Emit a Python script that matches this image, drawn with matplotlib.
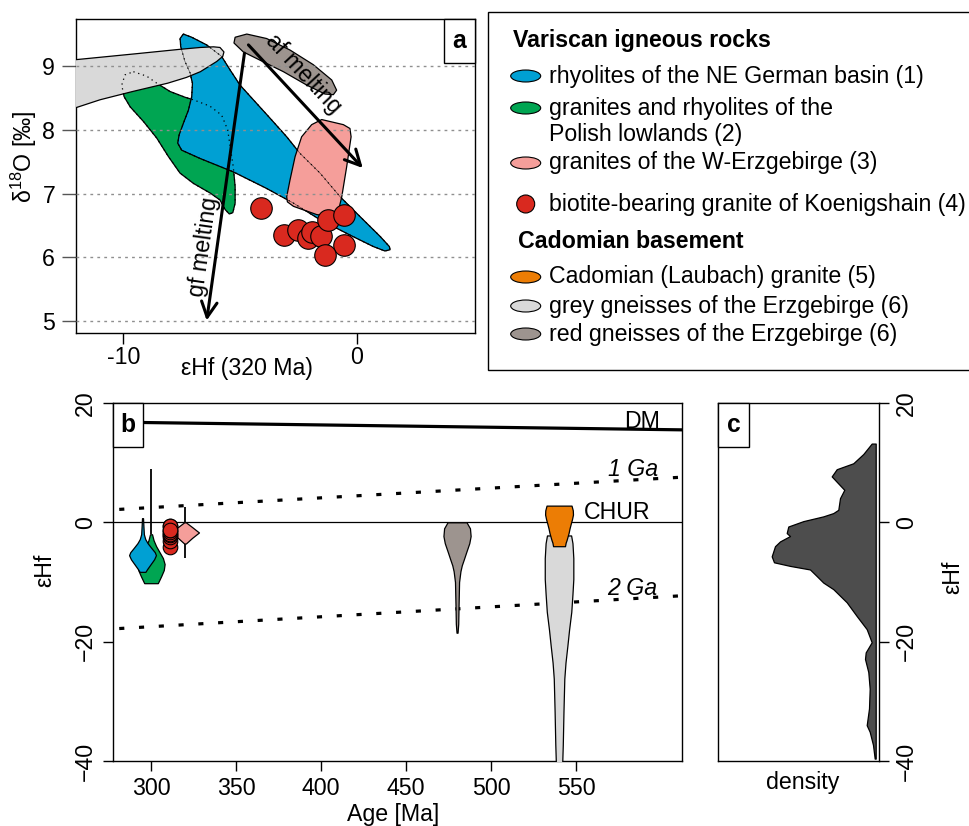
import matplotlib
matplotlib.use("Agg")
import matplotlib.pyplot as plt
from matplotlib.patches import Polygon, Rectangle, Ellipse, Circle
import numpy as np

plt.rcParams['font.family'] = ['Liberation Sans', 'DejaVu Sans']
plt.rcParams['mathtext.fontset'] = 'custom'
plt.rcParams['mathtext.rm'] = 'Liberation Sans'
FS = 16.7

# ---------------- colours ----------------
C_BLUE = '#00A0D3'
C_GREEN = '#00A552'
C_PINK = '#F59E9A'
C_RED = '#D9291F'
C_ORANGE = '#EC7D05'
C_LGREY = '#D9D9D9'
C_REDGN = '#9D948F'
C_DENS = '#4D4D4D'

# ---------------- panel a: epsilon Hf (320 Ma) vs d18O fields ----------------
grey_gneiss_ehf = [-14.0, -12.0, -9.5, -7.6, -6.7, -6.14, -5.86, -5.69, -5.74, -6.0, -6.7, -7.3, -8.1, -9.6, -11.0, -12.0, -14.0]
grey_gneiss_d18o = [9.03, 9.10, 9.19, 9.26, 9.29, 9.30, 9.29, 9.22, 9.15, 9.07, 8.91, 8.82, 8.73, 8.60, 8.47, 8.35, 8.25]

ne_german_ehf = [-7.43, -7.07, -6.43, -5.79, -5.43, -5.0, -4.43, -3.71, -3.0, -2.43, -1.57, -0.71, 0.14, 1.0, 1.40, 1.43, 1.21,
                 0.71, -0.29, -1.57, -2.71, -3.86, -5.29, -6.71, -7.5, -7.67, -7.61, -7.43, -7.21, -7.07, -7.04, -7.14, -7.36, -7.54, -7.57]
ne_german_d18o = [9.50, 9.45, 9.33, 9.15, 8.94, 8.70, 8.47, 8.18, 7.89, 7.63, 7.32, 6.95, 6.64, 6.33, 6.17, 6.12, 6.10,
                  6.17, 6.35, 6.59, 6.85, 7.08, 7.34, 7.55, 7.68, 7.79, 7.92, 8.10, 8.31, 8.52, 8.73, 8.89, 9.07, 9.30, 9.43]

polish_ehf = [-9.57, -9.0, -8.57, -8.0, -7.36, -7.0, -6.29, -5.79, -5.53, -5.4, -5.29, -5.21, -5.21, -5.31, -5.46, -5.64,
              -5.86, -6.29, -7.0, -7.57, -8.07, -8.57, -9.14, -9.71, -9.97, -10.07, -9.93]
polish_d18o = [8.91, 8.84, 8.73, 8.60, 8.51, 8.47, 8.37, 8.23, 8.0, 7.68, 7.42, 7.11, 6.85, 6.70, 6.68, 6.75,
               6.90, 7.01, 7.16, 7.32, 7.58, 7.87, 8.13, 8.36, 8.52, 8.70, 8.86]

red_gneiss_ehf = [-5.21, -4.71, -3.86, -2.86, -1.86, -1.07, -0.86, -1.0, -1.36, -2.14, -3.14, -4.14, -4.86, -5.26]
red_gneiss_d18o = [9.45, 9.50, 9.43, 9.25, 9.02, 8.78, 8.62, 8.55, 8.56, 8.70, 8.91, 9.09, 9.22, 9.36]

w_erz_ehf = [-1.93, -1.5, -0.57, -0.29, -0.24, -0.43, -0.64, -0.79, -1.0, -1.71, -2.71, -2.97, -3.0, -2.86, -2.64, -2.36]
w_erz_d18o = [8.08, 8.16, 8.08, 8.02, 7.89, 7.42, 6.95, 6.72, 6.64, 6.67, 6.80, 6.87, 6.95, 7.21, 7.58, 7.89]

# biotite-bearing granite of Koenigshain (individual samples)
koenigshain_ehf = [-4.10, -3.10, -2.50, -2.07, -1.90, -1.54, -1.24, -0.54, -0.54, -1.34]
koenigshain_d18o = [6.77, 6.35, 6.43, 6.30, 6.39, 6.34, 6.59, 6.66, 6.20, 6.03]

# melting trends (start, end)
gf_melting_ehf = [-4.81, -6.43]
gf_melting_d18o = [9.20, 5.01]
af_melting_ehf = [-4.64, 0.26]
af_melting_d18o = [9.33, 7.40]

# ---------------- panel b: epsilon Hf vs age ----------------
rhyolite_age = 295
rhyolite_ehf = [0.7, -0.5, -2.0, -2.8, -3.5, -4.3, -5.0, -5.5, -6.2, -7.0, -7.8, -8.3]
rhyolite_hw = [0.3, 0.5, 0.8, 1.6, 3.0, 5.2, 7.2, 7.9, 6.8, 4.8, 2.8, 1.7]

polish_age = 300
polish_range = [8.9, -2.0]
polish_v_ehf = [-2.0, -3.0, -4.0, -5.0, -6.0, -7.0, -8.0, -9.0, -10.2]
polish_v_hw = [0.6, 1.5, 3.0, 5.0, 7.0, 8.0, 7.5, 6.0, 4.0]

koenigshain_age = 311

w_erz_age = 320
w_erz_range = [2.5, -6.05]
w_erz_v_ehf = [0.0, -0.8, -1.7, -2.6, -3.55]
w_erz_v_hw = [0.5, 4.2, 8.2, 4.2, 0.5]

red_gneiss_age = 480
red_gneiss_v_ehf = [0.0, -1.0, -2.3, -3.5, -5.0, -6.2, -7.2, -8.2, -10.0, -14.0, -17.0, -18.5]
red_gneiss_v_hw = [5.6, 7.6, 8.0, 7.2, 5.4, 4.0, 2.8, 2.0, 1.2, 0.9, 0.7, 0.3]

grey_gneiss_age = 540
grey_gneiss_v_ehf = [-2.2, -3.5, -6.0, -9.5, -12.0, -15.0, -18.0, -20.7, -23.5, -26.2, -31.8, -37.3, -41.0]
grey_gneiss_v_hw = [7.1, 7.9, 8.4, 8.4, 7.9, 7.2, 5.9, 4.9, 3.8, 3.1, 2.6, 2.2, 1.8]

laubach_age = 540
laubach_v_ehf = [2.8, 2.0, 1.3, 0.5, 0.0, -1.0, -1.8, -3.0, -3.4, -4.0]
laubach_v_hw = [7.35, 8.1, 8.2, 7.6, 7.1, 6.2, 5.6, 4.4, 3.9, 3.5]

# reference evolution lines
dm_age = [277.4, 612.5]
dm_ehf = [16.8, 15.5]
ga1_age = [281.3, 612.5]
ga1_ehf = [2.17, 7.57]
ga2_age = [281.3, 612.5]
ga2_ehf = [-17.8, -12.3]

# ---------------- panel c: density of all epsilon Hf ----------------
dens_ehf = [13.2, 11.45, 9.9, 8.9, 7.7, 6.8, 5.45, 4.05, 2.1, 1.55, 1.0, 0.2, -0.7, -1.8, -2.3, -3.2, -4.0, -5.7, -6.7,
            -7.3, -7.9, -9.0, -10.1, -11.2, -13.4, -15.7, -17.9, -20.1, -21.8, -22.9, -25.1, -27.9, -31.2, -34.0, -35.1,
            -37.3, -39.6]
dens = [0.004, 0.0124, 0.0224, 0.039, 0.044, 0.039, 0.0314, 0.0357, 0.0374, 0.0424, 0.0524, 0.0724, 0.0874, 0.089,
        0.0857, 0.0957, 0.1007, 0.104, 0.1017, 0.0857, 0.0657, 0.059, 0.0524, 0.0424, 0.029, 0.019, 0.009, 0.004, 0.010,
        0.0107, 0.0074, 0.006, 0.0067, 0.009, 0.006, 0.0027, 0.001]

legend_headings = ["Variscan igneous rocks", "Cadomian basement"]
legend_labels = ["rhyolites of the NE German basin (1)", "granites and rhyolites of the\nPolish lowlands (2)",
                 "granites of the W-Erzgebirge (3)", "biotite-bearing granite of Koenigshain (4)",
                 "Cadomian (Laubach) granite (5)", "grey gneisses of the Erzgebirge (6)",
                 "red gneisses of the Erzgebirge (6)"]
legend_colors = [C_BLUE, C_GREEN, C_PINK, C_RED, C_ORANGE, C_LGREY, C_REDGN]
legend_marker = ['ellipse', 'ellipse', 'ellipse', 'circle', 'ellipse', 'ellipse', 'ellipse']

# ---------------- figure layout (pixel based) ----------------
W, H = 969, 826
fig = plt.figure(figsize=(W / 100, H / 100), dpi=100)


def px_axes(x0, y0, x1, y1):
    return fig.add_axes([x0 / W, 1 - y1 / H, (x1 - x0) / W, (y1 - y0) / H])


def px_to_axfrac(ax, px, py):
    bb = ax.get_position()
    return (px / W - bb.x0) / bb.width, ((1 - py / H) - bb.y0) / bb.height


def panel_tag(ax, letter, side, bw=31, bh=44):
    bb = ax.get_position()
    fw, fh = bw / (bb.width * W), bh / (bb.height * H)
    x0 = 1 - fw if side == 'right' else 0
    ax.add_patch(Rectangle((x0, 1 - fh), fw, fh, transform=ax.transAxes, facecolor='white',
                           edgecolor='black', lw=1.0, zorder=20, clip_on=False))
    ax.text(x0 + fw / 2, 1 - fh / 2, letter, transform=ax.transAxes, ha='center', va='center',
            fontsize=FS + 1, fontweight='bold', zorder=21)


# legend overlay (pixel coordinates)
lg = fig.add_axes([0, 0, 1, 1])
lg.set_xlim(0, W)
lg.set_ylim(H, 0)
lg.axis('off')
lg.add_patch(Rectangle((488, 12), 520, 358, facecolor='white', edgecolor='black', lw=1.0))
lg.text(513, 40, legend_headings[0], fontsize=FS, fontweight='bold', va='center', ha='left')
lg.text(518, 241, legend_headings[1], fontsize=FS, fontweight='bold', va='center', ha='left')
entry_y = [76, 108, 163, 204, 277, 306, 334]
for lab, col, mk, y in zip(legend_labels, legend_colors, legend_marker, entry_y):
    if mk == 'circle':
        lg.add_patch(Circle((525.7, y), 9, facecolor=col, edgecolor='black', lw=0.8))
    else:
        lg.add_patch(Ellipse((525.7, y), 30, 12, facecolor=col, edgecolor='black', lw=0.8))
    for i, line in enumerate(lab.split('\n')):
        lg.text(549, y + i * 26, line, fontsize=FS, va='center', ha='left')

# ---------------- panel a ----------------
ax_a = px_axes(76, 19, 475, 333.3)
ax_a.set_xlim(-12.03, 5.07)
ax_a.set_ylim(4.81, 9.736)

fields = [(polish_ehf, polish_d18o, C_GREEN),
          (ne_german_ehf, ne_german_d18o, C_BLUE),
          (grey_gneiss_ehf, grey_gneiss_d18o, C_LGREY),
          (red_gneiss_ehf, red_gneiss_d18o, C_REDGN),
          (w_erz_ehf, w_erz_d18o, C_PINK)]
for i, (ex, dy, col) in enumerate(fields):
    ax_a.add_patch(Polygon(np.column_stack([ex, dy]), closed=True, facecolor=col, edgecolor='black',
                           lw=0.9, joinstyle='round', zorder=2 + i))
# hidden outlines of overlapped fields
for ex, dy in [(polish_ehf, polish_d18o), (ne_german_ehf, ne_german_d18o)]:
    ax_a.plot(list(ex) + [ex[0]], list(dy) + [dy[0]], ls=(0, (1, 3)), lw=0.9, color='black', zorder=8)
ax_a.plot(list(ne_german_ehf) + [ne_german_ehf[0]], list(ne_german_d18o) + [ne_german_d18o[0]],
          ls='-', lw=0.4, color='black', alpha=0.7, zorder=8)

for yv in [5, 6, 7, 8, 9]:
    ax_a.axhline(yv, color='#8f8f8f', lw=1.0, ls=(0, (2, 3)), zorder=9)

ax_a.scatter(koenigshain_ehf, koenigshain_d18o, s=15.5 ** 2, facecolor=C_RED, edgecolor='black',
             linewidth=0.8, zorder=12)

arrow_kw = dict(arrowstyle='->,head_length=0.55,head_width=0.28', lw=2.2, color='black',
                shrinkA=0, shrinkB=0, mutation_scale=20)
ax_a.annotate('', xy=(gf_melting_ehf[1], gf_melting_d18o[1]), xytext=(gf_melting_ehf[0], gf_melting_d18o[0]),
              arrowprops=arrow_kw, zorder=13)
ax_a.annotate('', xy=(af_melting_ehf[1], af_melting_d18o[1]), xytext=(af_melting_ehf[0], af_melting_d18o[0]),
              arrowprops=arrow_kw, zorder=13)


def screen_angle(ax, x, y):
    p = ax.transData.transform(np.column_stack([x, y]))
    return np.degrees(np.arctan2(p[1, 1] - p[0, 1], p[1, 0] - p[0, 0]))


ang_gf = screen_angle(ax_a, gf_melting_ehf, gf_melting_d18o) + 180
ang_af = screen_angle(ax_a, af_melting_ehf, af_melting_d18o)
ax_a.text(-6.54, 6.17, 'gf melting', rotation=ang_gf, rotation_mode='anchor', ha='center', va='center',
          fontsize=FS, zorder=14)
ax_a.text(-2.27, 8.87, 'af melting', rotation=ang_af, rotation_mode='anchor', ha='center', va='center',
          fontsize=FS, zorder=14)

ax_a.set_xticks([-10, 0])
ax_a.set_xticklabels(['-10', '0'])
ax_a.set_yticks([5, 6, 7, 8, 9])
ax_a.tick_params(axis='x', length=8, width=1.0, labelsize=FS, pad=1)
ax_a.tick_params(axis='y', length=10, width=1.0, labelsize=FS, pad=5, color='#555555')
for s in ax_a.spines.values():
    s.set_linewidth(1.0)
ax_a.set_xlabel('εHf (320 Ma)', fontsize=FS)
ax_a.xaxis.label.set_va('center')
ax_a.xaxis.set_label_coords(*px_to_axfrac(ax_a, 246.7, 369))
ax_a.set_ylabel('δ$^{18}$O [‰]', fontsize=FS)
ax_a.yaxis.label.set_va('center')
ax_a.yaxis.set_label_coords(*px_to_axfrac(ax_a, 24, 157))
panel_tag(ax_a, 'a', 'right')

# ---------------- panel b ----------------
ax_b = px_axes(112.6, 403, 682.3, 761)
ax_b.set_xlim(277.4, 612.5)
ax_b.set_ylim(-40, 20)


def violin(ax, age, ehf, hw, color, z):
    ehf = np.asarray(ehf)
    hw = np.asarray(hw)
    ax.fill_betweenx(ehf, age - hw, age + hw, facecolor=color, edgecolor='black', lw=0.9,
                     joinstyle='round', zorder=z)


ax_b.axhline(0, color='black', lw=0.9, zorder=1)
ax_b.plot(dm_age, dm_ehf, color='black', lw=2.3, solid_capstyle='butt', zorder=2)
ax_b.plot(ga1_age, ga1_ehf, color='black', lw=2.3, ls=(0, (1.6, 4.6)), dash_capstyle='butt', zorder=2)
ax_b.plot(ga2_age, ga2_ehf, color='black', lw=2.3, ls=(0, (1.6, 4.6)), dash_capstyle='butt', zorder=2)

ax_b.vlines(polish_age, polish_range[1], polish_range[0], color='black', lw=1.3, zorder=3)
violin(ax_b, polish_age, polish_v_ehf, polish_v_hw, C_GREEN, 4)
violin(ax_b, rhyolite_age, rhyolite_ehf, rhyolite_hw, C_BLUE, 5)
ax_b.vlines(w_erz_age, w_erz_range[1], w_erz_range[0], color='black', lw=1.3, zorder=5)
violin(ax_b, w_erz_age, w_erz_v_ehf, w_erz_v_hw, C_PINK, 6)
ax_b.scatter([koenigshain_age] * len(koenigshain_ehf), koenigshain_ehf, s=10.5 ** 2, facecolor=C_RED,
             edgecolor='black', linewidth=0.8, zorder=7)
violin(ax_b, red_gneiss_age, red_gneiss_v_ehf, red_gneiss_v_hw, C_REDGN, 4)
violin(ax_b, grey_gneiss_age, grey_gneiss_v_ehf, grey_gneiss_v_hw, C_LGREY, 4)
violin(ax_b, laubach_age, laubach_v_ehf, laubach_v_hw, C_ORANGE, 5)

ax_b.text(588.8, 16.95, 'DM', fontsize=FS, ha='center', va='center', zorder=8)
ax_b.text(583.8, 8.8, '1 Ga', fontsize=FS, style='italic', ha='center', va='center', zorder=8)
ax_b.text(574, 1.67, 'CHUR', fontsize=FS, ha='center', va='center', zorder=8)
ax_b.text(583, -11.05, '2 Ga', fontsize=FS, style='italic', ha='center', va='center', zorder=8)

ax_b.set_xticks([300, 350, 400, 450, 500, 550])
ax_b.set_yticks([-40, -20, 0, 20])
ax_b.set_yticklabels(['−40', '−20', '0', '20'])
ax_b.tick_params(axis='x', length=7.5, width=1.0, labelsize=FS, pad=4)
ax_b.tick_params(axis='y', length=7.5, width=1.0, labelsize=FS, pad=4, labelrotation=90)
for t in ax_b.get_yticklabels():
    t.set_va('center')
for s in ax_b.spines.values():
    s.set_linewidth(1.0)
ax_b.set_xlabel('Age [Ma]', fontsize=FS)
ax_b.xaxis.label.set_va('center')
ax_b.xaxis.set_label_coords(*px_to_axfrac(ax_b, 393, 815))
ax_b.set_ylabel('εHf', fontsize=FS)
ax_b.yaxis.label.set_va('center')
ax_b.yaxis.set_label_coords(*px_to_axfrac(ax_b, 45, 570))
panel_tag(ax_b, 'b', 'left', bw=30)

# ---------------- panel c ----------------
ax_c = px_axes(718, 403, 879, 761)
ax_c.fill_betweenx(dens_ehf, 0, dens, facecolor=C_DENS, edgecolor='black', lw=0.9, zorder=2)
ax_c.set_xlim(0.1577, -0.0033)
ax_c.set_ylim(-40, 20)
ax_c.set_xticks([])
ax_c.yaxis.tick_right()
ax_c.yaxis.set_label_position('right')
ax_c.set_yticks([-40, -20, 0, 20])
ax_c.set_yticklabels(['−40', '−20', '0', '20'])
ax_c.tick_params(axis='y', length=7.5, width=1.0, labelsize=FS, pad=4, labelrotation=90)
for t in ax_c.get_yticklabels():
    t.set_va('center')
for s in ax_c.spines.values():
    s.set_linewidth(1.0)
ax_c.set_xlabel('density', fontsize=FS)
ax_c.xaxis.label.set_va('center')
ax_c.xaxis.set_label_coords(*px_to_axfrac(ax_c, 803, 783))
ax_c.set_ylabel('εHf', fontsize=FS, rotation=90)
ax_c.yaxis.label.set_va('center')
ax_c.yaxis.set_label_coords(*px_to_axfrac(ax_c, 953, 577))
panel_tag(ax_c, 'c', 'left')

fig.savefig('out.png', dpi=100)
